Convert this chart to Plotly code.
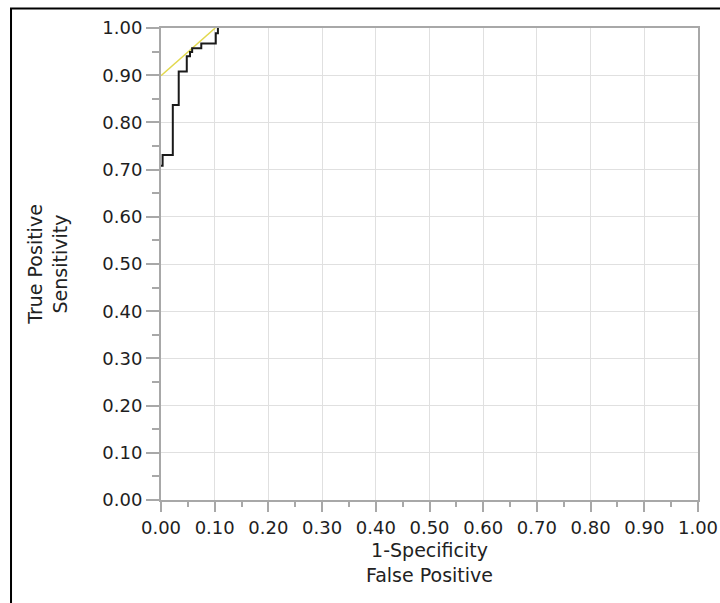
import plotly.graph_objects as go

# ROC curve step breakpoints (1-Specificity, Sensitivity)
fpr = [0.000, 0.003, 0.022, 0.033, 0.048, 0.054, 0.058, 0.075, 0.102, 0.106]
tpr = [0.708, 0.731, 0.837, 0.908, 0.940, 0.949, 0.957, 0.967, 0.989, 1.000]

# tangent (yellow) line endpoints
tan_x = [0.000, 0.101]
tan_y = [0.899, 1.000]

tick_vals = [i / 10 for i in range(11)]
tick_text = [f"{v:.2f}" for v in tick_vals]

fig = go.Figure()
fig.add_trace(go.Scatter(x=tan_x, y=tan_y, mode="lines",
                         line=dict(color="#e2d84e", width=1.5), hoverinfo="skip"))
fig.add_trace(go.Scatter(x=fpr, y=tpr, mode="lines", line_shape="hv",
                         line=dict(color="#1a1a1a", width=2)))

tickfont = dict(family="DejaVu Sans", size=18, color="#1e1e1e")
titlefont = dict(family="DejaVu Sans", size=19, color="#222222")

fig.update_layout(
    width=720, height=603,
    margin=dict(l=161, r=22, t=28, b=103),
    paper_bgcolor="white", plot_bgcolor="white",
    showlegend=False,
    xaxis=dict(range=[0, 1], tickvals=tick_vals, ticktext=tick_text,
               automargin=False,
               showgrid=True, gridcolor="#e0e0e0", gridwidth=1,
               showline=True, linecolor="#a8a8a8", linewidth=2, mirror=True,
               ticks="outside", ticklen=10, tickcolor="#a8a8a8", tickwidth=1.5,
               minor=dict(dtick=0.05, ticks="outside", ticklen=5, tickcolor="#a8a8a8",
                          showgrid=False),
               tickfont=tickfont, zeroline=False,
               title=dict(text="1-Specificity<br>False Positive", font=titlefont, standoff=7)),
    yaxis=dict(range=[0, 1], tickvals=tick_vals, ticktext=tick_text,
               automargin=False,
               showgrid=True, gridcolor="#e0e0e0", gridwidth=1,
               showline=True, linecolor="#a8a8a8", linewidth=2, mirror=True,
               ticks="outside", ticklen=13, tickcolor="#a8a8a8", tickwidth=1.5,
               minor=dict(dtick=0.05, ticks="outside", ticklen=7, tickcolor="#a8a8a8",
                          showgrid=False),
               tickfont=tickfont, zeroline=False,
               title=dict(text="True Positive<br>Sensitivity", font=titlefont, standoff=30)),
    shapes=[dict(type="rect", xref="paper", yref="paper",
                 x0=-0.2793, x1=1.3, y0=-0.3, y1=1.0413,
                 line=dict(color="black", width=2), layer="above")],
)

fig.write_html("out.html", config={"displayModeBar": False})
